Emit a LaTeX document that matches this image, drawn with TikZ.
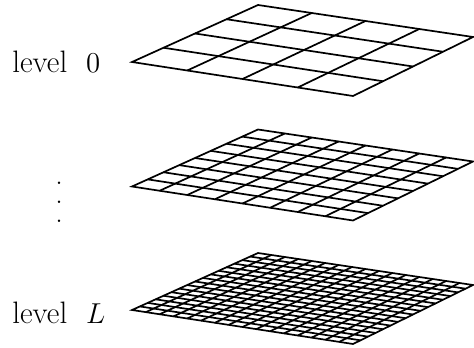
\documentclass[tikz,border=0pt]{standalone}
\usepackage{tikz}
\usetikzlibrary{calc}
\tikzset{
  grid line/.style={line width=0.85pt, line join=miter},
  level label/.style={anchor=base west, inner sep=0pt, font=\fontsize{15.5}{18}\selectfont}
}
\begin{document}
\begin{tikzpicture}[x=0.5pt, y=-0.5pt]
    \useasboundingbox (0,0) rectangle (474,347);

    % Grid levels: index / vertical shift / cells per side
    \foreach \k/\dy/\n in {0/0/4, 1/124.5/8, 2/248/16} {
        \coordinate (L\k) at (132,62+\dy);
        \coordinate (T\k) at (258,5+\dy);
        \coordinate (R\k) at (473,37+\dy);
        \coordinate (B\k) at (353,96+\dy);
        \pgfmathtruncatemacro\m{\n-1}
        \foreach \i in {1,...,\m} {
            \draw[grid line] ($(L\k)!\i/\n!(B\k)$) -- ($(T\k)!\i/\n!(R\k)$);
            \draw[grid line] ($(L\k)!\i/\n!(T\k)$) -- ($(B\k)!\i/\n!(R\k)$);
        }
        \draw[grid line] (L\k) -- (B\k) -- (R\k) -- (T\k) -- cycle;
    }

    % Labels
    \node[level label] (top) at (12,73) {level~~$0$};
    \node[level label] (bottom) at (12,323) {level~~$L$};
    \node[inner sep=0pt, align=center, font=\fontsize{15}{9.5}\selectfont] (dots) at (59,202) {.\\.\\.};
\end{tikzpicture}
\end{document}
